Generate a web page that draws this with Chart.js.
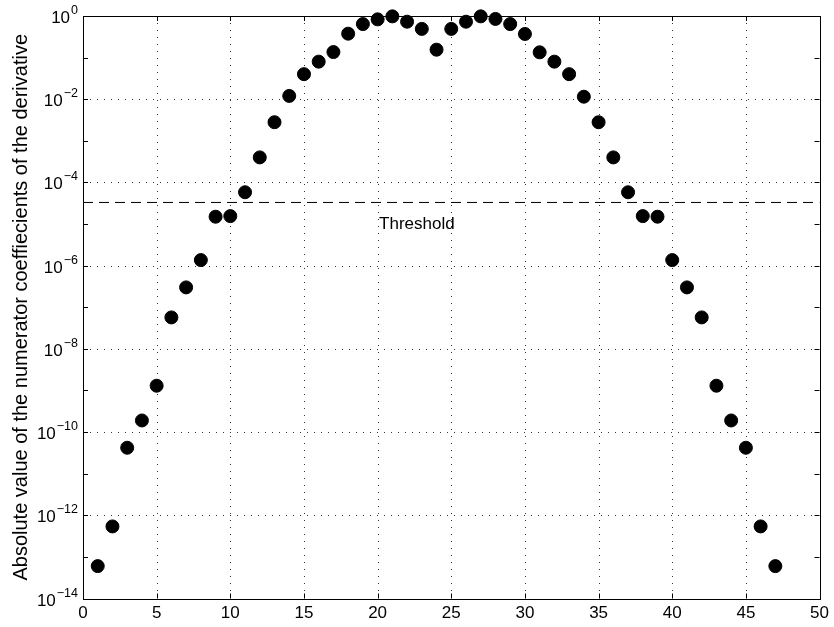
<!DOCTYPE html>
<html>
<head>
<meta charset="utf-8">
<script src="https://cdn.jsdelivr.net/npm/chart.js@4/dist/chart.umd.min.js"></script>
<style>
  html, body { margin: 0; padding: 0; background: #fff; }
  #wrap { width: 834px; height: 627px; position: relative; }
</style>
</head>
<body>
<div id="wrap"><canvas id="chart"></canvas></div>
<script>
// coefficient index and |numerator coefficient|
const indices = [1, 2, 3, 4, 5, 6, 7, 8, 9, 10, 11, 12, 13, 14, 15, 16, 17, 18, 19, 20, 21, 22, 23, 24,
  25, 26, 27, 28, 29, 30, 31, 32, 33, 34, 35, 36, 37, 38, 39, 40, 41, 42, 43, 44, 45, 46, 47];
const coeffs = [6e-14, 5.4e-13, 4.2e-11, 1.9e-10, 1.3e-9, 5.7e-8, 3e-7, 1.36e-6, 1.5e-5, 1.55e-5,
  5.8e-5, 4e-4, 2.8e-3, 1.2e-2, 4e-2, 8e-2, 0.136, 0.376, 0.64, 0.83, 0.98, 0.73, 0.49, 0.155,
  0.49, 0.73, 0.98, 0.85, 0.64, 0.37, 0.134, 0.08, 0.04, 0.0115, 2.8e-3, 4e-4, 5.8e-5, 1.55e-5,
  1.5e-5, 1.36e-6, 3e-7, 5.7e-8, 1.3e-9, 1.9e-10, 4.2e-11, 5.4e-13, 6e-14];

// threshold line
const thresholdX = [0, 50];
const thresholdValue = 3.3e-5;
const thresholdLabel = "Threshold";
const thresholdLabelAt = 20.1;

// axes
const xTicks = [0, 5, 10, 15, 20, 25, 30, 35, 40, 45, 50];
const yExponents = [0, -2, -4, -6, -8, -10, -12, -14];   // labelled decades, with grid
const yMinorExponents = [-1, -3, -5, -7, -9, -11, -13];  // tick marks only
const yTitle = "Absolute value of the numerator coeffiecients of the derivative";

const FONT = "'Liberation Sans', Arial, Helvetica, sans-serif";

const points = indices.map((x, i) => ({ x: x, y: coeffs[i] }));
const threshPts = thresholdX.map(x => ({ x: x, y: thresholdValue }));

// MATLAB style box, dotted grid, inward ticks, 10^n labels
const matlabAxes = {
  id: "matlabAxes",
  beforeDatasetsDraw(chart) {
    const c = chart.ctx, a = chart.chartArea;
    const xs = chart.scales.x, ys = chart.scales.y;
    c.save();
    c.strokeStyle = "#333";
    c.lineWidth = 1;
    c.setLineDash([1, 6]);
    xTicks.slice(1, -1).forEach(v => {
      const px = Math.round(xs.getPixelForValue(v)) + 0.5;
      c.beginPath(); c.moveTo(px, a.top); c.lineTo(px, a.bottom); c.stroke();
    });
    yExponents.slice(1, -1).forEach(e => {
      const py = Math.round(ys.getPixelForValue(Math.pow(10, e))) + 0.5;
      c.beginPath(); c.moveTo(a.left, py); c.lineTo(a.right, py); c.stroke();
    });
    c.restore();
  },
  afterDraw(chart) {
    const c = chart.ctx, a = chart.chartArea;
    const xs = chart.scales.x, ys = chart.scales.y;
    const tl = 5;
    c.save();
    c.strokeStyle = "#000";
    c.lineWidth = 1;
    c.setLineDash([]);
    c.strokeRect(Math.round(a.left) + 0.5, Math.round(a.top) + 0.5,
      Math.round(a.right - a.left), Math.round(a.bottom - a.top));
    c.beginPath();
    xTicks.forEach(v => {
      const px = Math.round(xs.getPixelForValue(v)) + 0.5;
      c.moveTo(px, a.bottom); c.lineTo(px, a.bottom - tl);
      c.moveTo(px, a.top); c.lineTo(px, a.top + tl);
    });
    yExponents.concat(yMinorExponents).forEach(e => {
      const py = Math.round(ys.getPixelForValue(Math.pow(10, e))) + 0.5;
      c.moveTo(a.left, py); c.lineTo(a.left + tl, py);
      c.moveTo(a.right, py); c.lineTo(a.right - tl, py);
    });
    c.stroke();

    // y tick labels as 10 with raised exponent
    c.fillStyle = "#000";
    c.textBaseline = "alphabetic";
    yExponents.forEach(e => {
      const py = ys.getPixelForValue(Math.pow(10, e));
      const exp = e === 0 ? "0" : "\u2212" + (-e);
      c.font = "12.5px " + FONT;
      const ew = c.measureText(exp).width;
      const right = a.left - 5;
      c.textAlign = "left";
      c.fillText(exp, right - ew, py - 2);
      c.font = "17px " + FONT;
      c.textAlign = "right";
      c.fillText("10", right - ew - 1, py + 7);
    });

    // threshold label
    c.font = "17px " + FONT;
    c.textAlign = "left";
    c.fillText(thresholdLabel, xs.getPixelForValue(thresholdLabelAt),
      ys.getPixelForValue(thresholdValue) + 27);
    c.restore();
  }
};

new Chart(document.getElementById("chart"), {
  type: "scatter",
  data: {
    datasets: [{
      data: points,
      backgroundColor: "#000",
      borderColor: "#000",
      borderWidth: 1,
      pointRadius: 6.5,
      pointHoverRadius: 6.5,
      clip: false
    }, {
      type: "line",
      data: threshPts,
      borderColor: "#000",
      borderWidth: 1,
      borderDash: [10, 6],
      pointRadius: 0,
      fill: false
    }]
  },
  options: {
    responsive: true,
    maintainAspectRatio: false,
    animation: false,
    events: [],
    layout: { padding: { top: 16, right: 13, left: 0, bottom: 0 } },
    plugins: { legend: { display: false }, tooltip: { enabled: false } },
    scales: {
      x: {
        type: "linear",
        min: 0, max: 50,
        afterBuildTicks: s => { s.ticks = xTicks.map(v => ({ value: v })); },
        afterFit: s => { s.height = 28.5; },
        grid: { display: false, drawTicks: false },
        border: { display: false },
        ticks: { color: "#000", font: { family: FONT, size: 17 }, padding: 5, maxRotation: 0 }
      },
      y: {
        type: "logarithmic",
        min: 1e-14, max: 1,
        afterBuildTicks: s => { s.ticks = yExponents.map(e => ({ value: Math.pow(10, e) })); },
        afterFit: s => { s.width = 83; },
        grid: { display: false, drawTicks: false },
        border: { display: false },
        ticks: { display: false },
        title: {
          display: true,
          text: yTitle,
          color: "#000",
          font: { family: FONT, size: 20 },
          padding: { top: 9, bottom: 0 }
        }
      }
    }
  },
  plugins: [matlabAxes]
});
</script>
</body>
</html>
